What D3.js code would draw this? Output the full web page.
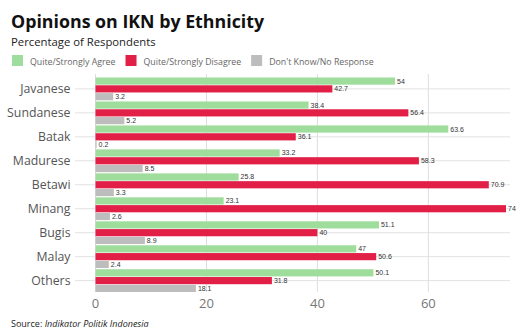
<!DOCTYPE html>
<html>
<head>
<meta charset="utf-8">
<script src="https://cdn.jsdelivr.net/npm/d3@7"></script>
<style>
  body { margin: 0; background: #fff; }
  svg { font-family: "Open Sans", sans-serif; }
</style>
</head>
<body>
<svg id="chart" width="516" height="329"></svg>
<script>
// chart data
const ethnicities = ["Javanese", "Sundanese", "Batak", "Madurese", "Betawi", "Minang", "Bugis", "Malay", "Others"];
const agree = [54, 38.4, 63.6, 33.2, 25.8, 23.1, 51.1, 47, 50.1];
const disagree = [42.7, 56.4, 36.1, 58.3, 70.9, 74, 40, 50.6, 31.8];
const dontKnow = [3.2, 5.2, 0.2, 8.5, 3.3, 2.6, 8.9, 2.4, 18.1];
const seriesNames = ["Quite/Strongly Agree", "Quite/Strongly Disagree", "Don't Know/No Response"];
const xTicks = [0, 20, 40, 60];

const colors = ["#9fdd9c", "#e21f47", "#bdbdbd"];
const seriesValues = [agree, disagree, dontKnow];

const svg = d3.select("#chart");

// title block
svg.append("text").attr("x", 11).attr("y", 28)
  .attr("font-size", 17.8).attr("font-weight", 700).attr("fill", "#111")
  .text("Opinions on IKN by Ethnicity");
svg.append("text").attr("x", 11).attr("y", 45.5)
  .attr("font-size", 11.3).attr("fill", "#222")
  .text("Percentage of Respondents");

// legend
let lx = 12;
seriesNames.forEach((name, i) => {
  svg.append("rect").attr("x", lx).attr("y", 55).attr("width", 11).attr("height", 11)
    .attr("fill", colors[i]);
  const t = svg.append("text").attr("x", lx + 18).attr("y", 64.5)
    .attr("font-size", 8.8).attr("fill", "#666").text(name);
  lx += 18 + t.node().getComputedTextLength() + 10;
});

// scales
const x = d3.scaleLinear().domain([0, 74]).range([95.5, 506]);
const y = d3.scaleBand().domain(ethnicities).range([77.5, 292]).paddingInner(0.05);
const sub = d3.scaleBand().domain(d3.range(3)).range([0, y.bandwidth()]).paddingInner(0.08);

// vertical grid
svg.append("g").selectAll("line").data(xTicks).join("line")
  .attr("x1", d => x(d)).attr("x2", d => x(d))
  .attr("y1", 74).attr("y2", 292)
  .attr("stroke", "#dedede").attr("stroke-width", 1);

// horizontal grid + tick marks at category centres
svg.append("g").selectAll("line").data(ethnicities).join("line")
  .attr("x1", 75).attr("x2", 510)
  .attr("y1", d => y(d) + y.bandwidth() / 2).attr("y2", d => y(d) + y.bandwidth() / 2)
  .attr("stroke", "#e2e2e2").attr("stroke-width", 1);

// category labels
svg.append("g").selectAll("text").data(ethnicities).join("text")
  .attr("x", 70.5).attr("y", d => y(d) + y.bandwidth() / 2 + 4.5)
  .attr("text-anchor", "end").attr("font-size", 12.3).attr("fill", "#555")
  .text(d => d);

// bars
const rows = ethnicities.map((e, i) => ({ e, vals: seriesValues.map(s => s[i]) }));
const group = svg.append("g").selectAll("g").data(rows).join("g")
  .attr("transform", d => `translate(0,${y(d.e)})`);

group.selectAll("rect").data(d => d.vals).join("rect")
  .attr("x", x(0))
  .attr("y", (d, i) => sub(i))
  .attr("width", d => x(d) - x(0))
  .attr("height", sub.bandwidth())
  .attr("fill", (d, i) => colors[i]);

group.selectAll("text").data(d => d.vals).join("text")
  .attr("x", d => x(d) + 2)
  .attr("y", (d, i) => sub(i) + sub.bandwidth() / 2 + 2.5)
  .attr("font-size", 7).attr("fill", "#333")
  .attr("font-family", "Liberation Sans, Arial, sans-serif")
  .text(d => d);

// x axis labels
svg.append("g").selectAll("text").data(xTicks).join("text")
  .attr("x", d => x(d)).attr("y", 308)
  .attr("text-anchor", "middle").attr("font-size", 13).attr("fill", "#777")
  .text(d => d);

// source
const src = svg.append("text").attr("x", 11).attr("y", 327)
  .attr("font-size", 9).attr("fill", "#222");
src.append("tspan").text("Source: ");
src.append("tspan").attr("font-style", "italic").text("Indikator Politik Indonesia");
</script>
</body>
</html>
